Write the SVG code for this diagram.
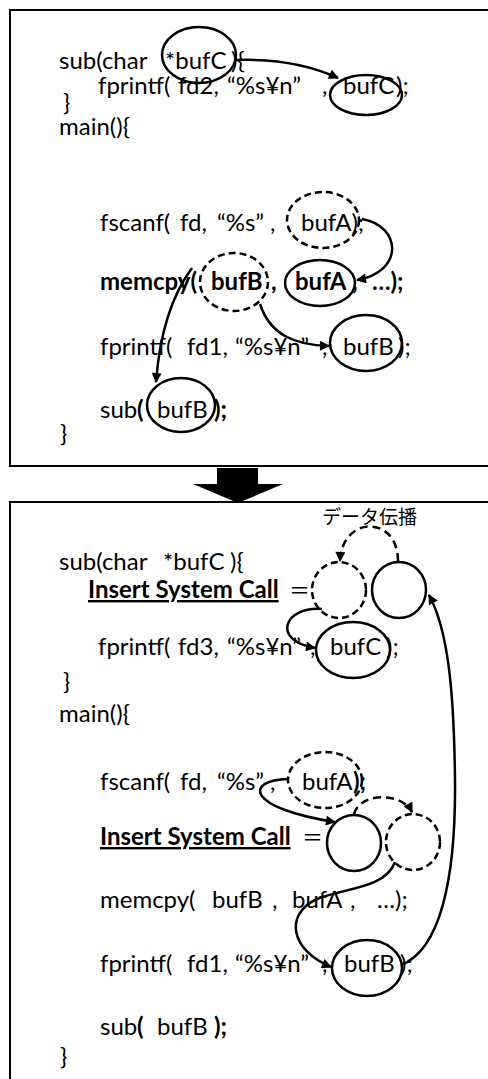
<svg xmlns="http://www.w3.org/2000/svg" width="488" height="1079" viewBox="0 0 488 1079">
<defs>
<marker id="ah" viewBox="0 0 10 10" refX="9" refY="5" markerUnits="userSpaceOnUse" markerWidth="12" markerHeight="10" orient="auto">
<path d="M0,0 L10,5 L0,10 z" fill="#000"/>
</marker>
<style>
text{font-family:Lato,"Liberation Sans","Noto Sans CJK JP",sans-serif;font-size:24px;fill:#000}
.b{font-weight:bold}
.u{font-weight:bold;text-decoration:underline}
.jp{font-family:"Noto Sans CJK JP",sans-serif;font-size:19px}
.eq{font-family:"Noto Sans CJK JP",sans-serif;font-size:21px}
.box{fill:none;stroke:#000;stroke-width:2}
.s{fill:none;stroke:#000;stroke-width:2.5}
.d{fill:none;stroke:#000;stroke-width:2.5;stroke-dasharray:7 4}
.c{fill:none;stroke:#000;stroke-width:2.5;marker-end:url(#ah)}
.cd{fill:none;stroke:#000;stroke-width:2.5;stroke-dasharray:8 5;marker-end:url(#ah)}
</style>
</defs>

<g id="panel-top">
<rect class="box" x="10" y="10" width="490" height="456"/>
<text x="59" y="69">sub(char</text><text x="165" y="69">*bufC</text><text x="231" y="69">){</text>
<text x="98" y="94">fprintf(</text><text x="178" y="94">fd2,</text><text x="227" y="94">“%s¥n”</text><text x="322" y="94">,</text><text x="343" y="94">bufC</text><text x="396" y="94">);</text>
<text x="63" y="111">}</text>
<text x="59" y="135">main(){</text>
<text x="100" y="231">fscanf(</text><text x="180" y="231">fd,</text><text x="217" y="231">“%s”</text><text x="270" y="231">,</text><text x="301" y="231">bufA);</text>
<text class="b" x="100" y="290">memcpy(</text><text class="b" x="211" y="290">bufB</text><text class="b" x="271" y="290">,</text><text class="b" x="295" y="290">bufA</text><text class="b" x="352" y="290">,</text><text class="b" x="372" y="290">…);</text>
<text x="100" y="355">fprintf(</text><text x="187" y="355">fd1,</text><text x="235" y="355">“%s¥n”</text><text x="322" y="355">,</text><text x="343" y="355">bufB</text><text x="398" y="355">);</text>
<text x="100" y="418">sub</text><text class="b" x="137" y="418">(</text><text x="157" y="418">bufB</text><text class="b" x="214" y="418">);</text>
<text x="60" y="442">}</text>
</g>

<g id="top-ellipses">
<ellipse id="t-bufC-param" class="s" cx="199" cy="55" rx="37" ry="28"/>
<ellipse id="t-bufC-print" class="s" cx="366" cy="95" rx="36" ry="20"/>
<ellipse id="t-bufA-scan" class="d" cx="323" cy="220" rx="36" ry="28"/>
<ellipse id="t-bufB-memcpy" class="d" cx="234" cy="282" rx="34" ry="29"/>
<ellipse id="t-bufA-memcpy" class="s" cx="320" cy="283" rx="35" ry="23"/>
<ellipse id="t-bufB-print" class="s" cx="366" cy="343" rx="36" ry="28"/>
<ellipse id="t-bufB-sub" class="s" cx="181" cy="405" rx="34" ry="27"/>
</g>

<g id="transform-arrow">
<polygon points="217,468 258,468 258,484 283,484 238,503 193,484 217,484" fill="#000"/>
</g>

<g id="panel-bottom">
<rect class="box" x="10" y="502" width="490" height="600"/>
<text class="jp" x="322" y="524">データ伝播</text>
<text x="59" y="570">sub(char</text><text x="163" y="570">*bufC</text><text x="230" y="570">){</text>
<text class="u" x="88" y="598">Insert System Call</text><text class="eq" x="289" y="598">＝</text>
<text x="98" y="655">fprintf(</text><text x="178" y="655">fd3,</text><text x="227" y="655">“%s¥n”</text><text x="310" y="655">,</text><text x="330" y="655">bufC</text><text x="386" y="655">);</text>
<text x="63" y="690">}</text>
<text x="59" y="722">main(){</text>
<text x="100" y="790">fscanf(</text><text x="180" y="790">fd,</text><text x="217" y="790">“%s”</text><text x="270" y="790">,</text><text x="302" y="790">bufA</text><text class="b" x="353" y="790">);</text>
<text class="u" x="100" y="845">Insert System Call</text><text class="eq" x="302" y="845">＝</text>
<text x="100" y="908">memcpy(</text><text x="212" y="908">bufB</text><text x="272" y="908">,</text><text x="292" y="908">bufA</text><text x="350" y="908">,</text><text x="377" y="908">…);</text>
<text x="100" y="972">fprintf(</text><text x="187" y="972">fd1,</text><text x="235" y="972">“%s¥n”</text><text x="322" y="972">,</text><text x="344" y="972">bufB</text><text x="400" y="972">);</text>
<text x="100" y="1035">sub</text><text class="b" x="137" y="1035">(</text><text x="157" y="1035">bufB</text><text class="b" x="214" y="1035">);</text>
<text x="60" y="1065">}</text>
</g>

<g id="bottom-ellipses">
<ellipse id="b-sc1-dst" class="d" cx="339" cy="590" rx="27" ry="28"/>
<ellipse id="b-sc1-src" class="s" cx="399" cy="590" rx="27" ry="28"/>
<ellipse id="b-bufC-print" class="s" cx="353" cy="650" rx="37" ry="28"/>
<ellipse id="b-bufA-scan" class="d" cx="325" cy="780" rx="37" ry="28"/>
<ellipse id="b-sc2-src" class="s" cx="354" cy="843" rx="27" ry="28"/>
<ellipse id="b-sc2-dst" class="d" cx="413" cy="842" rx="27" ry="28"/>
<ellipse id="b-bufB-print" class="s" cx="367" cy="968" rx="35" ry="28"/>
</g>

<g id="connectors">
<path class="c" d="M236,60 Q295,58 338,78"/>
<path class="c" d="M362,219 C402,226 404,272 357,280"/>
<path class="c" d="M260,304 C270,335 295,345 329,346"/>
<path class="c" d="M192,268 C172,295 160,330 156,382"/>
<path class="cd" d="M398,561 C398,515 342,515 340,561"/>
<path class="c" d="M322,609 C285,606 270,640 315,648"/>
<path class="c" d="M288,779 C245,780 245,808 335,822"/>
<path class="cd" d="M354,814 C360,792 402,792 412,812"/>
<path class="c" d="M395,862 C385,890 340,888 315,900 C285,915 290,950 331,967"/>
<path class="c" d="M401,965 C440,950 456,880 455,780 C454,690 448,630 429,595"/>
</g>
</svg>
